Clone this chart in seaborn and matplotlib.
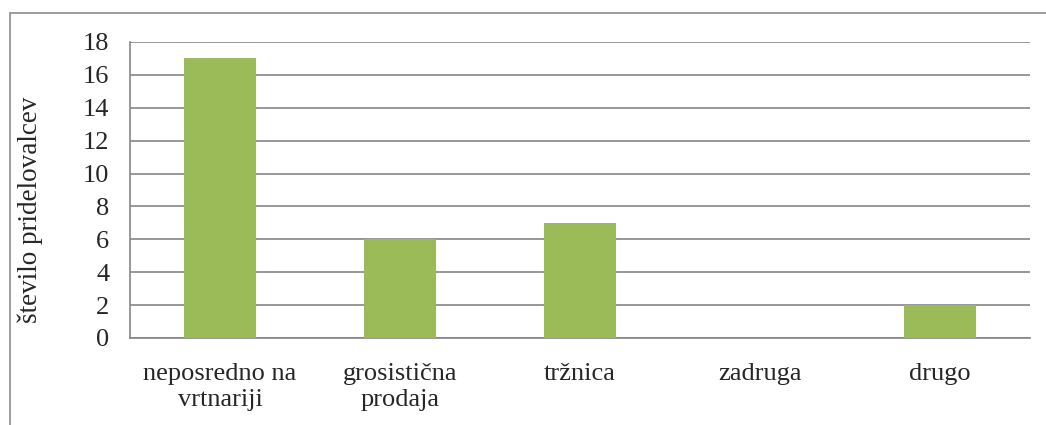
import matplotlib
matplotlib.use("Agg")
import matplotlib.pyplot as plt
import seaborn as sns
import pandas as pd
from matplotlib.patches import Rectangle

# Data
categories = ["neposredno na\nvrtnariji", "grosistična\nprodaja", "tržnica", "zadruga", "drugo"]
values = [17, 6, 7, 0, 2]
y_ticks = [0, 2, 4, 6, 8, 10, 12, 14, 16, 18]

df = pd.DataFrame({"kategorija": categories, "stevilo": values})

sns.set_style("white")
plt.rcParams["font.family"] = ["Liberation Serif", "DejaVu Serif"]

fig = plt.figure(figsize=(10.46, 4.25), dpi=100)
ax = fig.add_axes([130 / 1046, 1 - 338 / 425, 900 / 1046, 296 / 425])

sns.barplot(data=df, x="kategorija", y="stevilo", color="#9BBB59",
            width=0.4, saturation=1, linewidth=0, ax=ax, zorder=3)

ax.set_xlim(-0.5, 4.5)
ax.set_ylim(0, 18)
ax.set_yticks(y_ticks)
ax.yaxis.grid(True, color="#868686", linewidth=1.2, zorder=0)
ax.set_axisbelow(True)

# category boundary ticks on x axis
ax.set_xticks([i - 0.5 for i in range(len(categories) + 1)], minor=True)
ax.tick_params(axis="x", which="major", length=0, labelsize=19, pad=18)
ax.tick_params(axis="x", which="minor", length=7, color="#868686", width=1.2, direction="out")
ax.tick_params(axis="y", length=7, color="#868686", width=1.2, labelsize=19, pad=8)
for lab in ax.get_xticklabels():
    lab.set_linespacing(1.25)
    lab.set_verticalalignment("top")

for s in ["top", "right"]:
    ax.spines[s].set_visible(False)
for s in ["left", "bottom"]:
    ax.spines[s].set_color("#868686")
    ax.spines[s].set_linewidth(1.2)

ax.set_xlabel("")
ax.set_ylabel("število pridelovalcev", fontsize=19.5)
ax.yaxis.set_label_coords(-0.097, 0.432)

# chart area border
fig.patches.append(Rectangle((10 / 1046, -0.1), 1.2, 1.1 - 13 / 425, transform=fig.transFigure,
                             fill=False, edgecolor="#8c8c8c", linewidth=1.2))

fig.savefig("out.png", dpi=100)
